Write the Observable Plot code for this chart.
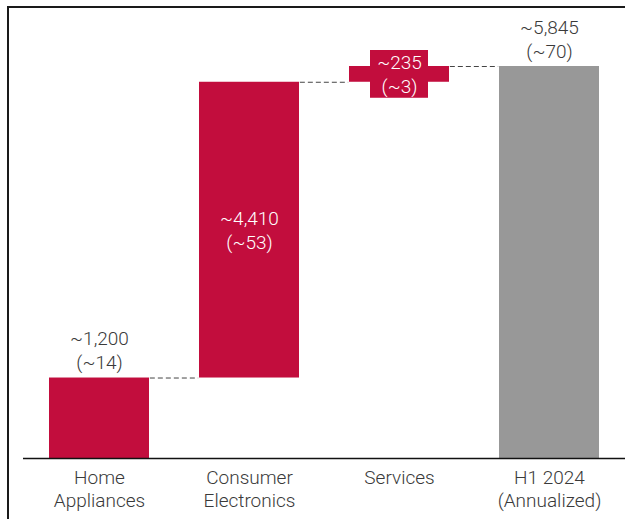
<!DOCTYPE html>
<html>
<head>
<meta charset="utf-8">
<script src="https://cdn.jsdelivr.net/npm/d3@7"></script>
<script src="https://cdn.jsdelivr.net/npm/@observablehq/plot@0.6"></script>
<style>
  html, body { margin: 0; padding: 0; background: #fff; overflow: hidden; }
  #wrap { position: relative; width: 625px; height: 519px; overflow: hidden; }
  #frame { position: absolute; left: 7px; top: 6px; width: 700px; height: 600px;
           border: 2px solid #1a1a1a; pointer-events: none; box-sizing: border-box; }
</style>
</head>
<body>
<div id="wrap"><div id="frame"></div></div>
<script>
// ---- data ----
const categories = ["Home Appliances", "Consumer Electronics", "Services", "H1 2024 (Annualized)"];
const tickLabels = ["Home\nAppliances", "Consumer\nElectronics", "Services", "H1 2024\n(Annualized)"];
const values = [1200, 4410, 235, 5845];
const shares = [14, 53, 3, 70];
const isTotal = [false, false, false, true];

// ---- build waterfall rows ----
let running = 0;
const rows = categories.map((cat, i) => {
  let start, end;
  if (isTotal[i]) { start = 0; end = values[i]; }
  else { start = running; end = running + values[i]; running = end; }
  return {cat, i, start, end, total: isTotal[i],
          label: `~${d3.format(",")(values[i])}\n(~${shares[i]})`};
});
const links = rows.slice(0, -1).map((d, i) => ({from: d.cat, to: rows[i + 1].cat, y: d.end}));

const RED = "#c20d3d", GRAY = "#989898";
const W = 625, H = 519, ML = 23, MR = 0, MT = 66, MB = 61;
const FS = 19;
const xOpts = {domain: categories, paddingInner: 0.33, paddingOuter: 0.165};
const bw = Plot.scale({x: {type: "band", ...xOpts, range: [ML, W - MR]}}).bandwidth;

const above = rows.filter(d => d.cat === "Home Appliances" || d.total);
const inside = rows.filter(d => !(d.cat === "Home Appliances" || d.total));

const chart = Plot.plot({
  width: W, height: H,
  marginLeft: ML, marginRight: MR, marginTop: MT, marginBottom: MB,
  style: {fontFamily: "Roboto, 'Liberation Sans', sans-serif", fontSize: FS + "px", fontWeight: 300, color: "#3a3a3a", background: "transparent", overflow: "visible"},
  x: xOpts,
  y: {domain: [0, d3.max(rows, d => d.end)], axis: null},
  marks: [
    Plot.ruleY(links, {y: "y", x1: "from", x2: "to", insetLeft: bw, insetRight: bw,
      stroke: "#444", strokeWidth: 1, strokeDasharray: "5,3"}),
    Plot.barY(rows, {x: "cat", y1: "start", y2: "end", fill: d => d.total ? GRAY : RED}),
    Plot.barY(rows.filter(d => d.cat === "Services"), {x: "cat", y1: "start", y2: "end",
      insetTop: -16, insetBottom: -16, insetLeft: 21, insetRight: 21, fill: RED}),
    Plot.ruleY([0], {stroke: "#111", strokeWidth: 1.6}),
    Plot.text(above, {x: "cat", y: "end", text: "label", lineAnchor: "bottom", dy: -9,
      lineHeight: 1.26, fontSize: FS, fill: "#3a3a3a"}),
    Plot.text(inside, {x: "cat", y: d => (d.start + d.end) / 2, text: "label", lineAnchor: "middle", dy: -1,
      lineHeight: 1.26, fontSize: FS, fill: "white"}),
    Plot.axisX({tickSize: 0, tickPadding: 9, lineHeight: 1.21, fontSize: FS, label: null,
      tickFormat: d => tickLabels[categories.indexOf(d)], fill: "#3a3a3a"})
  ]
});
document.getElementById("wrap").insertBefore(chart, document.getElementById("frame"));
</script>
</body>
</html>
